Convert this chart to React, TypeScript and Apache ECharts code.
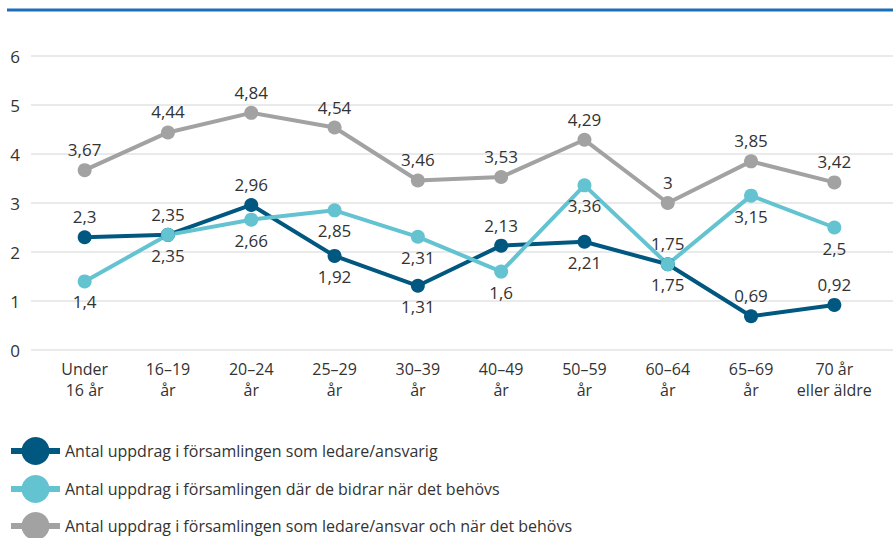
import React, { useEffect, useRef } from "react";
import * as echarts from "echarts";

const categories = ["Under\n16 år", "16–19\når", "20–24\når", "25–29\når", "30–39\når", "40–49\når", "50–59\når", "60–64\når", "65–69\når", "70 år\neller äldre"];
const seriesNames = [
  "Antal uppdrag i församlingen som ledare/ansvarig",
  "Antal uppdrag i församlingen där de bidrar när det behövs",
  "Antal uppdrag i församlingen som ledare/ansvar och när det behövs",
];
const leaderValues = [2.3, 2.35, 2.96, 1.92, 1.31, 2.13, 2.21, 1.75, 0.69, 0.92];
const leaderLabelPos = ["top", "top", "top", "bottom", "bottom", "top", "bottom", "top", "top", "top"];
const helpValues = [1.4, 2.35, 2.66, 2.85, 2.31, 1.6, 3.36, 1.75, 3.15, 2.5];
const bothValues = [3.67, 4.44, 4.84, 4.54, 3.46, 3.53, 4.29, 3, 3.85, 3.42];
const yTicks = [0, 1, 2, 3, 4, 5, 6];

const colors = ["#00577f", "#63c3d1", "#a2a2a2"];
const FONT = "Open Sans";
const TEXT = "#333333";

const fmt = (p: any) => String(p.value).replace(".", ",");

export default function App() {
  const ref = useRef<HTMLDivElement>(null);
  useEffect(() => {
    if (!ref.current) return;
    const chart = echarts.init(ref.current, null, { renderer: "svg" });
    const labelBase = { show: true, formatter: fmt, fontFamily: FONT, fontSize: 17, color: TEXT, distance: 5 };
    const mk = (name: string, data: any[], color: string, pos: string) => ({
      name,
      type: "line",
      xAxisIndex: 1,
      yAxisIndex: 1,
      data,
      symbol: "circle",
      symbolSize: 14,
      color,
      lineStyle: { width: 4, color },
      itemStyle: { color },
      label: { ...labelBase, position: pos },
      z: 3,
    });
    const legendTops = [437, 475, 512];
    chart.setOption({
      animation: false,
      graphic: [
        { type: "line", shape: { x1: 7, y1: 10, x2: 893, y2: 10 }, style: { stroke: "#1a6fb8", lineWidth: 3 } },
      ],
      grid: [
        { left: 31, right: 0, top: 56, bottom: 188 },
        { left: 43, right: 17, top: 56, bottom: 188 },
      ],
      xAxis: [
        { type: "category", gridIndex: 0, data: categories, show: false },
        {
          type: "category",
          gridIndex: 1,
          data: categories,
          axisLine: { show: false },
          axisTick: { show: false },
          axisLabel: { fontFamily: FONT, fontSize: 16, color: TEXT, lineHeight: 21, margin: 8, interval: 0 },
        },
      ],
      yAxis: [
        {
          type: "value",
          gridIndex: 0,
          min: yTicks[0],
          max: yTicks[yTicks.length - 1],
          interval: 1,
          axisLine: { show: false },
          axisTick: { show: false },
          axisLabel: { fontFamily: FONT, fontSize: 17, color: TEXT, margin: 11 },
          splitLine: { lineStyle: { color: "#e3e3e3", width: 1.5 } },
        },
        {
          type: "value",
          gridIndex: 1,
          min: yTicks[0],
          max: yTicks[yTicks.length - 1],
          interval: 1,
          show: false,
          splitLine: { show: false },
        },
      ],
      legend: seriesNames.map((name, i) => ({
        orient: "vertical",
        left: 8,
        top: legendTops[i],
        padding: 0,
        itemWidth: 49,
        itemHeight: 35,
        data: [name],
        lineStyle: { width: 6 },
        textStyle: { fontFamily: FONT, fontSize: 16, color: TEXT },
      })),
      series: [
        mk(seriesNames[0], leaderValues.map((v, i) => ({ value: v, label: { position: leaderLabelPos[i] } })), colors[0], "top"),
        mk(seriesNames[1], helpValues, colors[1], "bottom"),
        mk(seriesNames[2], bothValues, colors[2], "top"),
      ],
    });
    return () => chart.dispose();
  }, []);
  return <div ref={ref} style={{ width: 893, height: 538, position: "absolute", left: 0, top: 0 }} />;
}
